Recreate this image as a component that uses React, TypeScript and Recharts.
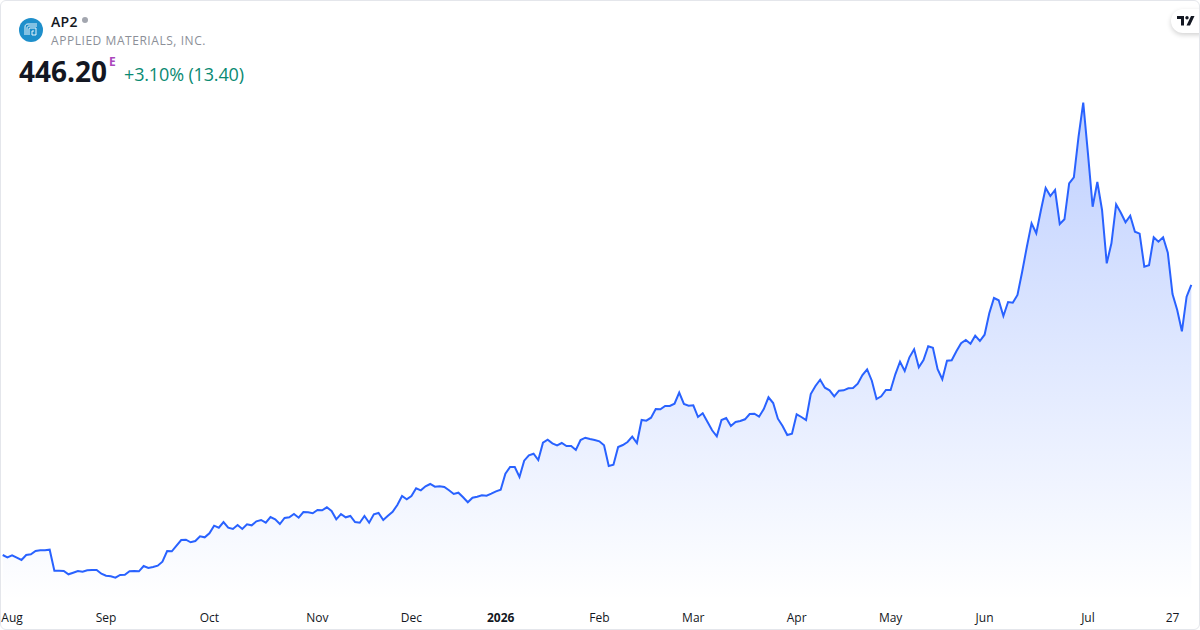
import React from "react";
import { AreaChart, Area, XAxis, YAxis } from "recharts";

const ticker = "AP2";
const company = "APPLIED MATERIALS, INC.";
const lastPrice = "446.20";
const change = "+3.10% (13.40)";

const pricesA = [176,173.7,175.7,173.3,171,176,176.7,180,180.7,180.7,181.3,160.3,160.3,160,156.7,158.3,160,159.3,160.7,161,161,157.3,155.3,154.7,153.3,156,156.3,159.7,160,159.7,165,163,164,165.3,169.3,180,179.7,185.3,191,191.3,188.7];
const pricesB = [190,194.7,193.7,197.7,205.3,203.3,209,203.3,202,206,202,206.7,205.7,209.7,211,208.3,214,211.7,207,213,213.7,217,213.3,219,218.7,217.7,221,220.7,223.7,220,211.7,217,213.7,215,209,208.3,215,208.3,216.7,218,211,215.3,219.3,226];
const pricesC = [235,231.7,235,242.7,240.7,244.7,247,244.3,244.7,244,240.7,237,238.3,233.7,228.7,233.3,234.3,235.7,235.3,237.3,239.7,241.3,257.3,264,264,254,270.3,275.7,277.3,271,288.3,291.3,287.7,285.7,288,285,285,281,291,293.3,292,291,289.7,285.7,265,266.3,284,286,289,294.3,288];
const pricesD = [311,310.3,313.3,322,321.7,325,325,327.3,338.3,327,325.3,325.7,314,317.7,309.3,300.7,294.7,311,313,305,309,310,311.7,317,317.3,314.3,322,333.7,328,312.3,305,296,297.3,316.7];
const pricesE = [314,311,337,345,351.3,343.3,340.7,334.7,340.3,340.7,342.7,343,347.3,356,361.7,350.3,332,334.7,341,341,356.7,369.3,360,373.7,381.7,363.7,371,384.7,383.3,361.7,351.7,370.3,370.7,379.7,387.7,391,387.3,395.3,390,396.3,417.7,433,430.7,415,429,428.3,436];
const pricesF = [459.3,484.3,507.7,497.7,521,543,535,541,507,511.7,547.7,553.7,594.3,628.3,577.7,524.3,549,521,467.7,487.7,526.7,518.3,508.7,515.3,499.3,497.3,464.3,465.7,493.7,489.3,493.7,478.3,437,421,399.7,434.3,446.2];
const prices = [...pricesA, ...pricesB, ...pricesC, ...pricesD, ...pricesE, ...pricesF];

const tickIndexes = [2,22,44,67,87,106,127,147,169,189,209,231,249];
const tickLabels = ["Aug","Sep","Oct","Nov","Dec","2026","Feb","Mar","Apr","May","Jun","Jul","27"];

const data = prices.map((price, index) => ({ index, price }));
const FONT = "'Open Sans', sans-serif";

const Tick = (props: any) => {
  const { x, payload } = props;
  const label = tickLabels[tickIndexes.indexOf(payload.value)];
  const isYear = label === "2026";
  return (
    <text x={x} y={622} textAnchor="middle" fontFamily={FONT} fontSize={12} fontWeight={isYear ? 700 : 400} fill="#131722">
      {label}
    </text>
  );
};

export default function App() {
  return (
    <div style={{ position: "absolute", left: 0, top: 0, width: 1200, height: 630, overflow: "hidden", background: "#fff", fontFamily: FONT }}>
      <div style={{ position: "absolute", inset: 0, border: "1px solid #e4e6eb", borderRadius: 6, boxSizing: "border-box", zIndex: 3, pointerEvents: "none" }} />
      <div style={{ position: "absolute", left: 0, top: 0 }}>
        <AreaChart width={1200} height={630} data={data} margin={{ top: 0, right: 8.7, bottom: 0, left: 2.7 }}>
          <defs>
            <linearGradient id="fillArea" x1="0" y1="0" x2="0" y2="1">
              <stop offset="0%" stopColor="#2962ff" stopOpacity={0.3} />
              <stop offset="100%" stopColor="#2962ff" stopOpacity={0} />
            </linearGradient>
          </defs>
          <XAxis dataKey="index" type="number" domain={[0, prices.length - 1]} ticks={tickIndexes} interval={0} height={30} axisLine={false} tickLine={false} tick={<Tick />} />
          <YAxis hide domain={[131, 731]} allowDataOverflow />
          <Area type="linear" dataKey="price" stroke="#2962ff" strokeWidth={2} fill="url(#fillArea)" fillOpacity={1} isAnimationActive={false} dot={false} activeDot={false} />
        </AreaChart>
      </div>

      <svg width={24} height={24} viewBox="0 0 24 24" style={{ position: "absolute", left: 19, top: 18 }}>
        <circle cx={12} cy={12} r={12} fill="#1e8fcb" />
        <path d="M6 17V9C6 7 7 6 9 6H18M8 17V10C8 9 9 8 10 8H18M10 17V11C10 10.400 10.400 10 11 10H17V17H13V13H15" fill="none" stroke="#fff" strokeWidth={0.9} />
      </svg>
      <div style={{ position: "absolute", left: 51, top: 12, fontSize: 14, lineHeight: "19px", fontWeight: 600, color: "#131722", letterSpacing: 0.3 }}>{ticker}</div>
      <div style={{ position: "absolute", left: 82, top: 17, width: 6, height: 6, borderRadius: 3, background: "#a3a6af" }} />
      <div style={{ position: "absolute", left: 51, top: 32, fontSize: 12, lineHeight: "17px", letterSpacing: 0.55, color: "#8c8f98", whiteSpace: "nowrap" }}>{company}</div>
      <div style={{ position: "absolute", left: 19, top: 52, fontSize: 28, lineHeight: "38px", fontWeight: 700, color: "#131722" }}>{lastPrice}</div>
      <div style={{ position: "absolute", left: 109, top: 54, fontSize: 12, lineHeight: "16px", fontWeight: 700, color: "#ab47bc" }}>E</div>
      <div style={{ position: "absolute", left: 124, top: 62, fontSize: 18, lineHeight: "25px", letterSpacing: -0.15, color: "#0a8a72", whiteSpace: "nowrap" }}>{change}</div>

      <div style={{ position: "absolute", left: 1171, top: 9, width: 40, height: 24, borderRadius: 12, background: "#fff", boxShadow: "0 2px 5px rgba(0,0,0,0.18)" }} />
      <svg width={18} height={10} viewBox="0 0 18 10" style={{ position: "absolute", left: 1177, top: 16 }}>
        <path d="M0 0H7V9.5H4V3H0Z M14 0L17.500 0L13 9.500H9.500Z" fill="#131722" />
        <circle cx={10} cy={1.7} r={1.7} fill="#131722" />
      </svg>
    </div>
  );
}
